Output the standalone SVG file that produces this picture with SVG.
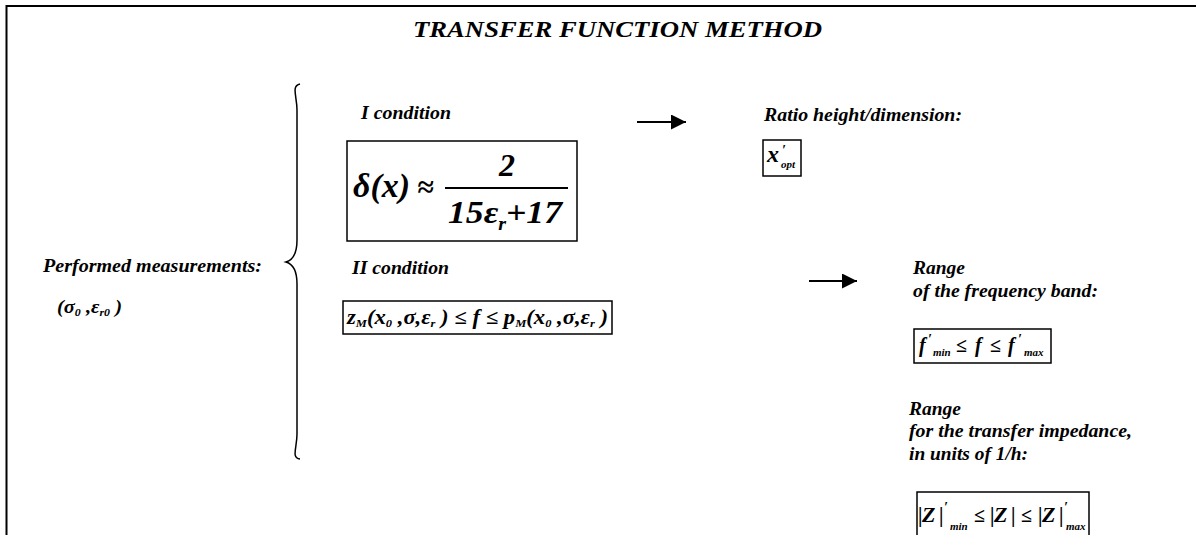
<svg xmlns="http://www.w3.org/2000/svg" width="1196" height="535" viewBox="0 0 1196 535">
<style>
text{font-family:"Liberation Serif","DejaVu Serif",serif;font-weight:bold;font-style:italic;fill:#000}
.lbl{font-size:18px}
.box{fill:none;stroke:#000;stroke-width:1.5}
.frame{fill:none;stroke:#000;stroke-width:2}
.conn{stroke:#000;stroke-width:2;fill:none}
.sub{font-size:11px}
.up{font-size:14px}
.bar{font-style:normal}
.zz{font-size:22px}
</style>
<defs>
<marker id="ah" viewBox="0 0 10 10" refX="10" refY="5" markerWidth="17" markerHeight="15" markerUnits="userSpaceOnUse" orient="auto"><path d="M0,0 L10,5 L0,10 z" fill="#000"/></marker>
</defs>
<rect width="1196" height="535" fill="#fff"/>
<g id="frame">
<path class="frame" d="M6.5,535 V6 H1196"/>
</g>
<g id="title">
<text x="413" y="37" font-size="23" textLength="409" lengthAdjust="spacingAndGlyphs">TRANSFER FUNCTION METHOD</text>
</g>
<g id="measurements">
<text class="lbl" x="43" y="272" textLength="219" lengthAdjust="spacingAndGlyphs">Performed measurements:</text>
<text x="57" y="313" font-size="19" textLength="65" lengthAdjust="spacingAndGlyphs">(σ<tspan class="sub" dy="3">0</tspan><tspan dy="-3"> ,ε</tspan><tspan class="sub" dy="3">r0</tspan><tspan dy="-3"> )</tspan></text>
</g>
<g id="brace">
<path d="M300,84 C291,86 297,96 297,110 V240 C297,254 293,260 286,262 C293,264 297,270 297,284 V434 C297,448 291,458 300,459" fill="none" stroke="#000" stroke-width="1.5"/>
</g>
<g id="cond1">
<text class="lbl" x="361" y="119" textLength="90" lengthAdjust="spacingAndGlyphs">I condition</text>
<rect class="box" x="347" y="141" width="230" height="100"/>
<text x="353" y="197" font-size="34" textLength="57" lengthAdjust="spacingAndGlyphs">δ(x)</text>
<text x="417" y="197" font-size="30" font-style="normal">≈</text>
<line x1="445" y1="188" x2="568" y2="188" stroke="#000" stroke-width="2"/>
<text x="507" y="176" font-size="32" text-anchor="middle">2</text>
<text x="448" y="223" font-size="32" textLength="114" lengthAdjust="spacingAndGlyphs">15ε<tspan font-size="18" dy="7">r</tspan><tspan dy="-7">+17</tspan></text>
</g>
<g id="cond2">
<text class="lbl" x="352" y="274" textLength="97" lengthAdjust="spacingAndGlyphs">II condition</text>
<rect class="box" x="343" y="301" width="269" height="33"/>
<text x="347" y="324" font-size="20" textLength="261" lengthAdjust="spacingAndGlyphs">z<tspan class="sub" dy="3">M</tspan><tspan dy="-3">(x</tspan><tspan class="sub" dy="3">0</tspan><tspan dy="-3"> ,σ,ε</tspan><tspan class="sub" dy="3">r</tspan><tspan dy="-3"> ) ≤ f ≤ p</tspan><tspan class="sub" dy="3">M</tspan><tspan dy="-3">(x</tspan><tspan class="sub" dy="3">0</tspan><tspan dy="-3"> ,σ,ε</tspan><tspan class="sub" dy="3">r</tspan><tspan dy="-3"> )</tspan></text>
</g>
<g id="ratio">
<text class="lbl" x="764" y="121" textLength="198" lengthAdjust="spacingAndGlyphs">Ratio height/dimension:</text>
<rect class="box" x="763" y="140" width="38" height="36"/>
<text font-size="24"><tspan x="767" y="162">x</tspan><tspan class="up" x="782" y="155">′</tspan><tspan class="sub" x="781" y="168">opt</tspan></text>
</g>
<g id="freq">
<text class="lbl" x="913" y="274" textLength="52" lengthAdjust="spacingAndGlyphs">Range</text>
<text class="lbl" x="913" y="297" textLength="185" lengthAdjust="spacingAndGlyphs">of the frequency band:</text>
<rect class="box" x="914" y="329" width="137" height="34"/>
<text font-size="20"><tspan x="919" y="352">f</tspan><tspan class="up" x="928" y="344">′</tspan><tspan class="sub" x="933" y="356">min</tspan><tspan x="956" y="352" class="bar">≤</tspan><tspan x="975" y="352">f</tspan><tspan x="990" y="352" class="bar">≤</tspan><tspan x="1008" y="352">f</tspan><tspan class="up" x="1018" y="344">′</tspan><tspan class="sub" x="1024" y="356">max</tspan></text>
</g>
<g id="impedance">
<text class="lbl" x="909" y="415" textLength="52" lengthAdjust="spacingAndGlyphs">Range</text>
<text class="lbl" x="909" y="437" textLength="223" lengthAdjust="spacingAndGlyphs">for the transfer impedance,</text>
<text class="lbl" x="909" y="460" textLength="119" lengthAdjust="spacingAndGlyphs">in units of 1/h:</text>
<path class="box" d="M917,535 V492 H1089 V535"/>
<text font-size="20"><tspan class="bar" x="918" y="522">|</tspan><tspan class="zz" x="922" y="522">Z</tspan><tspan class="bar" x="939" y="522">|</tspan><tspan class="up" x="944" y="512">′</tspan><tspan class="sub" x="950" y="530">min</tspan><tspan class="bar" x="974" y="522">≤</tspan><tspan class="bar" x="990" y="522">|</tspan><tspan class="zz" x="994" y="522">Z</tspan><tspan class="bar" x="1011" y="522">|</tspan><tspan class="bar" x="1021" y="522">≤</tspan><tspan class="bar" x="1038" y="522">|</tspan><tspan class="zz" x="1042" y="522">Z</tspan><tspan class="bar" x="1059" y="522">|</tspan><tspan class="up" x="1064" y="512">′</tspan><tspan class="sub" x="1066" y="530">max</tspan></text>
</g>
<g id="connectors">
<line class="conn" x1="637" y1="122" x2="686" y2="122" marker-end="url(#ah)"/>
<line class="conn" x1="809" y1="281" x2="857" y2="281" marker-end="url(#ah)"/>
</g>
</svg>
